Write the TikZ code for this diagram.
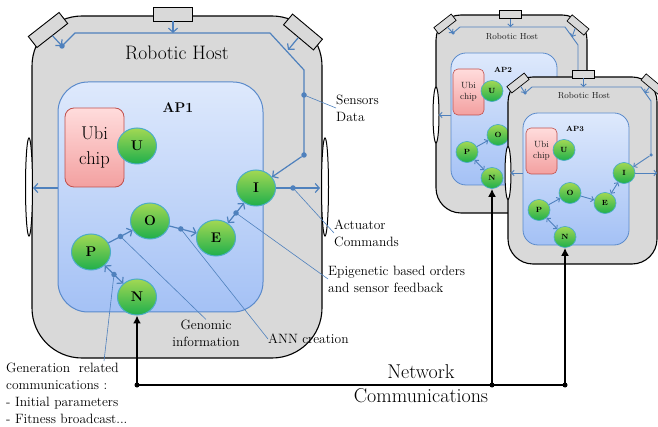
\documentclass[tikz,border=0pt]{standalone}
\usepackage{fontspec}
\usetikzlibrary{arrows.meta,shapes.geometric}
\definecolor{hostgray}{HTML}{D9D9D9}
\definecolor{busblue}{HTML}{4F81BD}
\definecolor{aptop}{HTML}{DEE9FC}
\definecolor{apbot}{HTML}{A4C1F5}
\definecolor{apedge}{HTML}{5A8ACB}
\definecolor{chiptop}{HTML}{FFDCDC}
\definecolor{chipbot}{HTML}{F3A0A0}
\definecolor{chipedge}{HTML}{C0504D}
\definecolor{gtop}{HTML}{A2D853}
\definecolor{gbot}{HTML}{1FAF4C}
\definecolor{gedge}{HTML}{4BACC6}
\begin{document}
\begin{tikzpicture}[x=1pt,y=-1pt,
  host/.style={rectangle,draw=black,line width=1.1pt,fill=hostgray,inner sep=0pt},
  apbox/.style={rectangle,draw=apedge,line width=1pt,top color=aptop,bottom color=apbot,inner sep=0pt},
  chipbox/.style={rectangle,draw=chipedge,line width=0.8pt,top color=chiptop,bottom color=chipbot,inner sep=0pt,align=center},
  gene/.style={ellipse,draw=gedge,line width=1pt,top color=gtop,bottom color=gbot,
    minimum width=39pt,minimum height=36pt,inner sep=0pt,font=\bfseries\fontsize{14}{14}\selectfont},
  genesm/.style={gene,minimum width=22pt,minimum height=21pt,line width=0.7pt,font=\bfseries\fontsize{7.5}{7.5}\selectfont},
  sensor/.style={rectangle,draw=black,line width=0.9pt,fill=hostgray,minimum width=39pt,minimum height=14pt,inner sep=0pt},
  sensorsm/.style={sensor,minimum width=22pt,minimum height=8pt,line width=0.7pt},
  wheel/.style={ellipse,draw=black,line width=1pt,fill=white,minimum width=7pt,minimum height=98pt,inner sep=0pt},
  bus/.style={draw=busblue,line width=1.2pt,line join=round},
  busarrow/.style={bus,-{Straight Barb[length=4pt,width=9pt]}},
  busboth/.style={bus,{Straight Barb[length=4pt,width=9pt]}-{Straight Barb[length=4pt,width=9pt]}},
  bussm/.style={draw=busblue,line width=0.9pt,line join=round},
  busarrowsm/.style={bussm,-{Straight Barb[length=2.5pt,width=5.5pt]}},
  busbothsm/.style={bussm,{Straight Barb[length=2.5pt,width=5.5pt]}-{Straight Barb[length=2.5pt,width=5.5pt]}},
  jdot/.style={circle,fill=busblue,minimum size=5.5pt,inner sep=0pt},
  jdotsm/.style={circle,fill=busblue,minimum size=3.5pt,inner sep=0pt},
  note/.style={draw=busblue,line width=0.6pt},
  notetext/.style={font=\fontsize{13.5}{17}\selectfont,align=left,inner sep=0pt},
  netline/.style={draw=black,line width=2.6pt},
  netarrow/.style={netline,-{Latex[length=8pt,width=8pt]}},
  netdot/.style={circle,fill=black,minimum size=5pt,inner sep=0pt}]
\useasboundingbox (0,0) rectangle (658,427);

% ---------------- robotic host 1 ----------------
\node[host,rounded corners=50pt,minimum width=290pt,minimum height=342pt] (host1) at (177,187) {};
\node[wheel] (wl1) at (29,187) {};
\node[wheel] (wr1) at (325,187) {};
\node[sensor] (s1t) at (173,14) {};
\node[sensor,rotate=38] (s1l) at (48,30) {};
\node[sensor,rotate=-40] (s1r) at (303,32) {};
\node[font=\fontsize{19.5}{20}\selectfont] (h1lbl) at (177,53) {Robotic Host};

% sensor bus
\coordinate (b1a) at (62,46);
\coordinate (b1b) at (75,33);
\coordinate (b1c) at (173,33);
\coordinate (b1d) at (270,33);
\coordinate (b1e) at (288,50);
\coordinate (b1f) at (304,70);
\coordinate (b1g) at (304,155);
\draw[bus] (b1a) -- (b1b) -- (b1d) -- (b1f) -- (b1g);
\draw[busarrow] (s1t.south) -- (b1c);
\draw[busarrow] (s1l.south) -- (b1a);
\draw[busarrow] (s1r.south) -- (b1e);
\node[jdot] (d1a) at (b1a) {};
\node[jdot] (dSens) at (304,95) {};
\node[jdot] (d1g) at (b1g) {};

% processor AP1
\node[apbox,rounded corners=30pt,minimum width=205pt,minimum height=230pt] (ap1) at (160.5,197) {};
\node[font=\bfseries\fontsize{14}{14}\selectfont] (ap1lbl) at (178,108) {AP1};
\node[chipbox,rounded corners=9pt,minimum width=59pt,minimum height=79pt,
      font=\fontsize{18.5}{25}\selectfont] (chip1) at (94.5,147.5) {Ubi\\chip};
\node[gene] (U1) at (137,146) {U};
\node[gene] (I1) at (256,188) {I};
\node[gene] (O1) at (150,221) {O};
\node[gene] (P1) at (91,252) {P};
\node[gene] (E1) at (216,238) {E};
\node[gene] (N1) at (137,297) {N};

\draw[busarrow] (d1g) -- (I1);
\coordinate (act1) at (320,188);
\draw[busarrow] (I1) -- (act1);
\node[jdot] (dAct) at (293,188) {};
\coordinate (lft1) at (33,188);
\draw[busarrow] (ap1.west |- I1.center) -- (lft1);
\draw[busarrow] (P1) -- (O1) node[jdot,pos=0.5] (dPO) {};
\draw[busarrow] (O1) -- (E1) node[jdot,pos=0.42] (dOE) {};
\draw[busboth] (E1) -- (I1) node[jdot,pos=0.5] (dEI) {};
\draw[busboth] (P1) -- (N1) node[jdot,pos=0.5] (dPN) {};

% annotations
\node[notetext,anchor=west] (sensLbl) at (336,108) {Sensors\\Data};
\node[notetext,anchor=west] (actLbl) at (334,233) {Actuator\\Commands};
\node[notetext,anchor=west] (epiLbl) at (328,279) {Epigenetic based orders\\and sensor feedback};
\node[notetext,anchor=west] (annLbl) at (268,339) {ANN creation};
\node[notetext,align=center] (genoLbl) at (206,333) {Genomic\\information};
\node[notetext,anchor=west] (genrLbl) at (6,393.5) {Generation\ \ related\\communications :\\- Initial parameters\\- Fitness broadcast...};
\coordinate (genTip) at (104,361);
\draw[note] (dSens.center) -- (sensLbl.west);
\draw[note] (dAct.center) -- (actLbl.west);
\draw[note] (dEI.center) -- (epiLbl.west);
\draw[note] (dOE.center) -- (annLbl.west);
\draw[note] (dPO.center) -- (genoLbl.north);
\draw[note] (dPN.center) -- (genTip);

% ---------------- robotic host 2 ----------------
\node[host,rounded corners=25pt,minimum width=151pt,minimum height=198pt] (host2) at (511.5,114) {};
\node[wheel,minimum width=6pt,minimum height=56pt] (wl2) at (436,115) {};
\node[sensorsm] (s2t) at (510.5,14.5) {};
\node[sensorsm,rotate=38] (s2l) at (445,24) {};
\node[sensorsm,rotate=-40] (s2r) at (578,25) {};
\node[font=\fontsize{8.8}{9}\selectfont,text=black!88] (h2lbl) at (512,37) {Robotic Host};
\coordinate (b2a) at (453,33);
\coordinate (b2b) at (460,27);
\coordinate (b2c) at (510.5,27);
\coordinate (b2d) at (565,27);
\coordinate (b2e) at (572,37);
\coordinate (b2f) at (578,45);
\coordinate (b2g) at (578,76);
\draw[bussm] (b2a) -- (b2b) -- (b2d) -- (b2f) -- (b2g);
\draw[busarrowsm] (s2t.south) -- (b2c);
\draw[busarrowsm] (s2l.south) -- (b2a);
\draw[busarrowsm] (s2r.south) -- (b2e);
\node[jdotsm] (d2a) at (b2a) {};
\node[apbox,rounded corners=15pt,minimum width=106pt,minimum height=132pt,line width=0.8pt] (ap2) at (504,119) {};
\node[font=\bfseries\fontsize{7.5}{7.5}\selectfont] (ap2lbl) at (503,70) {AP2};
\node[chipbox,rounded corners=5pt,minimum width=31pt,minimum height=46pt,line width=0.6pt,
      font=\fontsize{9}{11.5}\selectfont,text=black!88] (chip2) at (468.5,92) {Ubi\\chip};
\node[genesm] (U2) at (492,91) {U};
\node[genesm] (O2) at (498,135) {O};
\node[genesm] (P2) at (467,152) {P};
\node[genesm] (N2) at (492,178) {N};
\coordinate (lft2) at (439,115);
\draw[busarrowsm] (ap2.west |- lft2) -- (lft2);
\draw[busarrowsm] (P2) -- (O2);
\draw[busbothsm] (P2) -- (N2);

% ---------------- robotic host 3 ----------------
\node[host,rounded corners=25pt,minimum width=149pt,minimum height=187pt] (host3) at (582.5,170.5) {};
\node[wheel,minimum width=6pt,minimum height=53pt] (wl3) at (508,173) {};
\node[sensorsm] (s3t) at (583.5,74) {};
\node[sensorsm,rotate=38] (s3l) at (518,83) {};
\node[sensorsm,rotate=-40] (s3r) at (652,84) {};
\node[font=\fontsize{8.8}{9}\selectfont,text=black!88] (h3lbl) at (584,96) {Robotic Host};
\coordinate (b3a) at (525,93);
\coordinate (b3b) at (532,87);
\coordinate (b3c) at (583.5,87);
\coordinate (b3d) at (641,87);
\coordinate (b3e) at (645,93);
\coordinate (b3f) at (651,101);
\coordinate (b3g) at (651,155);
\draw[bussm] (b3a) -- (b3b) -- (b3d) -- (b3f) -- (b3g);
\draw[busarrowsm] (s3t.south) -- (b3c);
\draw[busarrowsm] (s3l.south) -- (b3a);
\draw[busarrowsm] (s3r.south) -- (b3e);
\node[jdotsm] (d3a) at (b3a) {};
\node[jdotsm] (d3g) at (b3g) {};
\node[apbox,rounded corners=15pt,minimum width=106pt,minimum height=132pt,line width=0.8pt] (ap3) at (576,179) {};
\node[font=\bfseries\fontsize{7.5}{7.5}\selectfont] (ap3lbl) at (575,129) {AP3};
\node[chipbox,rounded corners=5pt,minimum width=31pt,minimum height=46pt,line width=0.6pt,
      font=\fontsize{9}{11.5}\selectfont,text=black!88] (chip3) at (541.5,151) {Ubi\\chip};
\node[genesm] (U3) at (564,150) {U};
\node[genesm] (I3) at (624,173) {I};
\node[genesm] (O3) at (570,193) {O};
\node[genesm] (E3) at (605,203) {E};
\node[genesm] (P3) at (539,210) {P};
\node[genesm] (N3) at (565,237) {N};
\coordinate (lft3) at (511,173);
\coordinate (act3) at (657,173);
\draw[busarrowsm] (ap3.west |- lft3) -- (lft3);
\draw[busarrowsm] (I3) -- (act3);
\draw[busarrowsm] (d3g) -- (I3);
\draw[busarrowsm] (P3) -- (O3);
\draw[busarrowsm] (O3) -- (E3);
\draw[busbothsm] (E3) -- (I3);
\draw[busbothsm] (P3) -- (N3);

% ---------------- network ----------------
\coordinate (net1) at (137,385);
\coordinate (net2) at (492,385);
\coordinate (net3) at (565,385);
\draw[netline] (net1) -- (net3);
\draw[netarrow] (net1) -- (N1);
\draw[netarrow] (net2) -- (N2);
\draw[netarrow] (net3) -- (N3);
\node[netdot] (nd1) at (net1) {};
\node[netdot] (nd2) at (net2) {};
\node[netdot] (nd3) at (net3) {};
\node[font=\fontsize{20}{24}\selectfont,align=center] (netLbl) at (421,384) {Network\\Communications};
\end{tikzpicture}
\end{document}
